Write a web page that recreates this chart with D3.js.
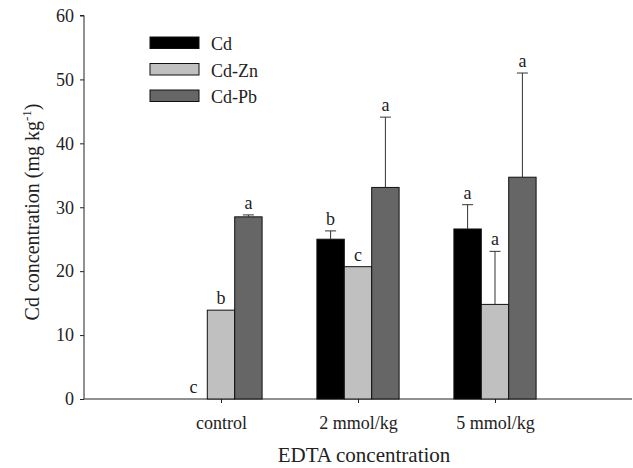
<!DOCTYPE html>
<html><head><meta charset="utf-8">
<script src="https://cdn.jsdelivr.net/npm/d3@7"></script>
<style>body{margin:0;background:#fff}text{font-family:"Liberation Serif","Times New Roman",serif}</style>
</head><body>
<svg id="c" width="633" height="468"></svg>
<script>
const categories = ["control", "2 mmol/kg", "5 mmol/kg"];
const seriesNames = ["Cd", "Cd-Zn", "Cd-Pb"];
const seriesColors = ["#000000", "#c0c0c0", "#666666"];
const cdValues = [0, 25.0, 26.6];
const cdZnValues = [13.9, 20.7, 14.8];
const cdPbValues = [28.5, 33.1, 34.7];
const cdErr = [0, 1.3, 3.8];
const cdZnErr = [0, 0, 8.3];
const cdPbErr = [0.3, 11.0, 16.3];
const cdLetters = ["c", "b", "a"];
const cdZnLetters = ["b", "c", "a"];
const cdPbLetters = ["a", "a", "a"];
const yTicks = [0, 10, 20, 30, 40, 50, 60];

const values = [cdValues, cdZnValues, cdPbValues];
const errs = [cdErr, cdZnErr, cdPbErr];
const letters = [cdLetters, cdZnLetters, cdPbLetters];

const svg = d3.select("#c");
const x = d3.scaleLinear().domain([0, 4]).range([84, 632]);
const y = d3.scaleLinear().domain([0, 60]).range([399, 15.5]);
const barW = 27.4;

// axes
const yAxis = d3.axisLeft(y).tickValues(yTicks).tickSize(4).tickPadding(6);
const gy = svg.append("g").attr("transform", "translate(84,0)").call(yAxis);
gy.select(".domain").attr("d", `M-4,${y(60)}H0V${y(0)}`).attr("stroke", "#222");
gy.selectAll(".tick line").attr("stroke", "#222");
gy.selectAll(".tick text").attr("font-size", 18).attr("fill", "#222").attr("font-family", "Liberation Serif");

const xAxis = d3.axisBottom(x).tickValues([1, 2, 3]).tickFormat((d) => categories[d - 1]).tickSize(4).tickPadding(13);
const gx = svg.append("g").attr("transform", `translate(0,${y(0)})`).call(xAxis);
gx.select(".domain").attr("d", `M84,0H632`).attr("stroke", "#222");
gx.selectAll(".tick line").attr("stroke", "#222");
gx.selectAll(".tick text").attr("font-size", 18).attr("fill", "#222").attr("font-family", "Liberation Serif");

// bars
seriesNames.forEach((name, s) => {
  const g = svg.append("g");
  categories.forEach((c, i) => {
    const cx = x(i + 1) + (s - 1) * barW;
    const v = values[s][i];
    if (v > 0) {
      g.append("rect").attr("x", cx - barW / 2).attr("y", y(v)).attr("width", barW)
        .attr("height", y(0) - y(v)).attr("fill", seriesColors[s]).attr("stroke", "#111").attr("stroke-width", 1);
    }
    const e = errs[s][i];
    if (e > 0) {
      g.append("line").attr("x1", cx).attr("x2", cx).attr("y1", y(v)).attr("y2", y(v + e)).attr("stroke", "#333");
      g.append("line").attr("x1", cx - 5.5).attr("x2", cx + 5.5).attr("y1", y(v + e)).attr("y2", y(v + e)).attr("stroke", "#333");
    }
    g.append("text").attr("x", cx).attr("y", y(v + e) - 6).attr("text-anchor", "middle")
      .attr("font-size", 18).attr("fill", "#222").text(letters[s][i]);
  });
});

// legend
seriesNames.forEach((name, s) => {
  const ly = 37 + s * 26.5;
  svg.append("rect").attr("x", 150).attr("y", ly).attr("width", 49).attr("height", 11.5)
    .attr("fill", seriesColors[s]).attr("stroke", "#111");
  svg.append("text").attr("x", 211).attr("y", ly + 13).attr("font-size", 18).attr("fill", "#222").text(name);
});

// axis titles
const yl = svg.append("text").attr("transform", "translate(39,212) rotate(-90)").attr("text-anchor", "middle")
  .attr("font-size", 20).attr("fill", "#222");
yl.append("tspan").text("Cd concentration (mg kg");
yl.append("tspan").attr("font-size", 13).attr("dy", -8).text("-1");
yl.append("tspan").attr("dy", 8).text(")");

svg.append("text").attr("x", 364).attr("y", 462).attr("text-anchor", "middle").attr("font-size", 21)
  .attr("fill", "#222").text("EDTA concentration");
</script>
</body></html>
